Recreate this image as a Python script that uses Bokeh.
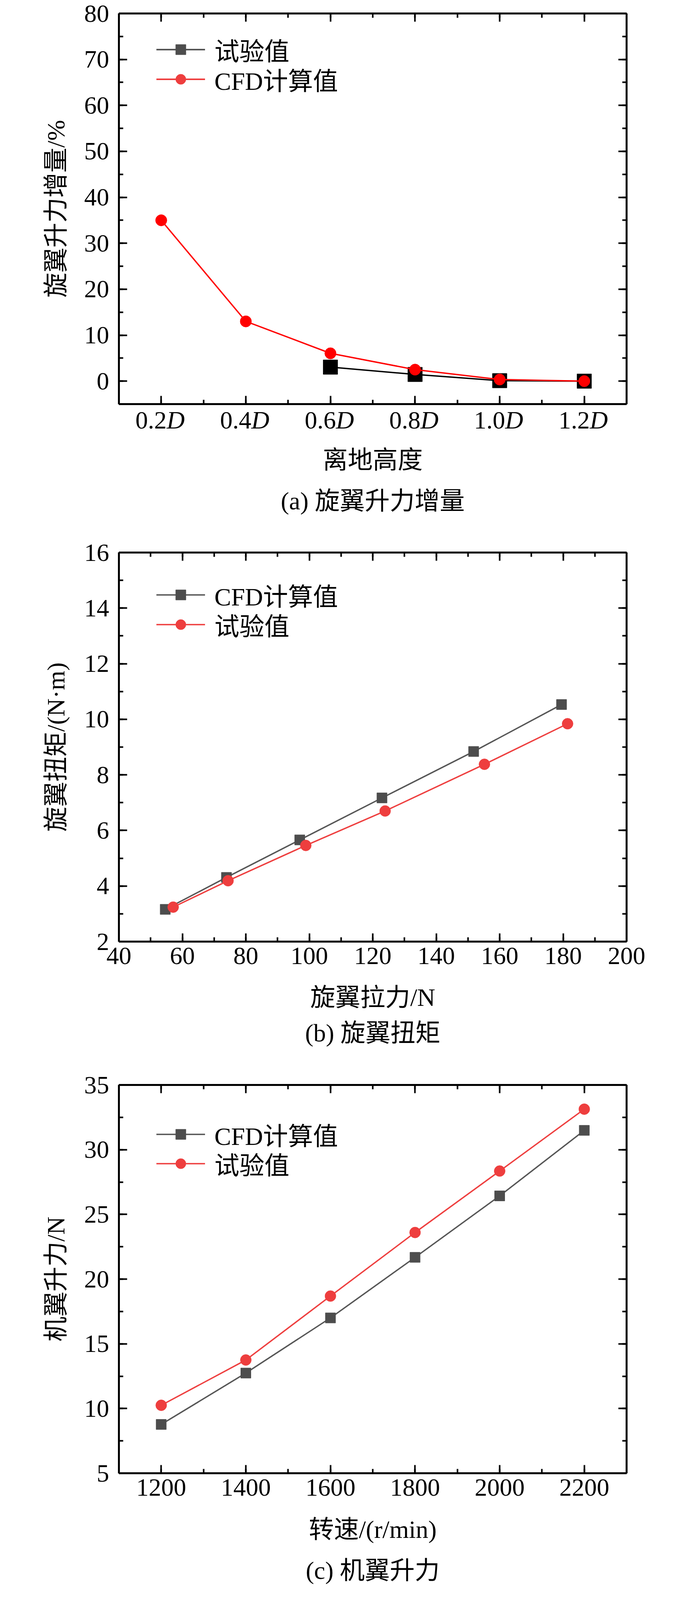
import numpy as np
from bokeh.plotting import figure
from bokeh.layouts import column
from bokeh.models import (ColumnDataSource, FixedTicker, LinearAxis, Range1d,
                          Legend, LegendItem)
from bokeh.core.properties import value
from bokeh.embed import file_html
from bokeh.resources import INLINE

SERIF = "Liberation Serif"
MIXED = "Liberation Serif, Noto Sans CJK SC"
FS = "64px"
W = 1756
BL, BR = 304, 152          # left / right borders -> frame 1300 px wide

# ---------------- data ----------------
# (a) rotor lift increment vs ground height
a_tick_vals = [0.2, 0.4, 0.6, 0.8, 1.0, 1.2]
a_tick_nums = ["0.2", "0.4", "0.6", "0.8", "1.0", "1.2"]
a_cfd_x = [0.2, 0.4, 0.6, 0.8, 1.0, 1.2]
a_cfd_y = [35.0, 13.0, 6.05, 2.5, 0.35, 0.0]
a_exp_x = [0.6, 0.8, 1.0, 1.2]
a_exp_y = [3.05, 1.45, 0.1, 0.0]

# (b) rotor torque vs rotor thrust
b_xticks = [40, 60, 80, 100, 120, 140, 160, 180, 200]
b_cfd_x = [54.6, 73.9, 97.0, 122.9, 151.8, 179.5]
b_cfd_y = [3.16, 4.31, 5.66, 7.17, 8.84, 10.53]
b_exp_x = [57.1, 74.4, 98.9, 123.9, 155.2, 181.4]
b_exp_y = [3.24, 4.19, 5.46, 6.70, 8.38, 9.84]

# (c) wing lift vs rotating speed
c_speed = [1200, 1400, 1600, 1800, 2000, 2200]
c_cfd = [8.77, 12.74, 17.0, 21.68, 26.43, 31.49]
c_exp = [10.25, 13.75, 18.69, 23.6, 28.35, 33.13]

GREY = "#4d4d4d"
GREY_LINE = "#555555"
RED = "#ee3e3e"


def style_axis(ax):
    ax.axis_line_width = 5
    ax.axis_line_color = "black"
    ax.major_tick_in = 21
    ax.major_tick_out = 0
    ax.minor_tick_in = 11
    ax.minor_tick_out = 0
    ax.major_tick_line_width = 4
    ax.minor_tick_line_width = 4
    ax.major_tick_line_color = "black"
    ax.minor_tick_line_color = "black"


def bare_labels(ax):
    ax.major_label_text_font_size = "1px"
    ax.major_label_text_color = None
    ax.major_label_standoff = 0
    ax.axis_label_standoff = 0


def main_fig(h, bt, bb, xr, yr, xt, xm, yt, ym, ylabel, x_labels=True):
    p = figure(width=W, height=h, output_backend="svg", toolbar_location=None,
               title=None, x_range=Range1d(*xr), y_range=Range1d(*yr),
               x_axis_location=None, y_axis_location=None,
               min_border_left=BL, min_border_right=BR,
               min_border_top=bt, min_border_bottom=bb)
    p.outline_line_color = None
    p.xgrid.visible = False
    p.ygrid.visible = False
    p.background_fill_color = "white"
    p.border_fill_color = "white"
    for side in ["below", "left", "above", "right"]:
        if side in ("below", "above"):
            tk = FixedTicker(ticks=xt, minor_ticks=xm)
        else:
            tk = FixedTicker(ticks=yt, minor_ticks=ym)
        ax = LinearAxis(ticker=tk)
        style_axis(ax)
        if side == "left":
            ax.major_label_text_font = SERIF
            ax.major_label_text_font_size = FS
            ax.major_label_text_color = "black"
            ax.major_label_standoff = 25
            ax.axis_label = ylabel
            ax.axis_label_standoff = 34
            ax.axis_label_text_font = MIXED
            ax.axis_label_text_font_size = FS
            ax.axis_label_text_font_style = "normal"
            ax.axis_label_text_color = "black"
        elif side == "below" and x_labels:
            ax.major_label_text_font = SERIF
            ax.major_label_text_font_size = FS
            ax.major_label_text_color = "black"
            ax.major_label_standoff = 15
        else:
            bare_labels(ax)
        p.add_layout(ax, side)
    return p


def strip_fig(h, xr):
    # text strip below a panel; its frame is aligned with the panel frame
    q = figure(width=W, height=h, output_backend="svg", toolbar_location=None,
               title=None, x_range=Range1d(*xr), y_range=Range1d(-h, 0),
               x_axis_location=None, y_axis_location=None,
               min_border_left=BL, min_border_right=BR,
               min_border_top=0, min_border_bottom=0)
    q.outline_line_color = None
    q.xgrid.visible = False
    q.ygrid.visible = False
    q.background_fill_color = "white"
    q.border_fill_color = "white"
    return q


def strip_labels(q, xr, xlabel, lab_base, title, title_base):
    xc = (xr[0] + xr[1]) / 2.0
    for txt, yb in ((xlabel, lab_base), (title, title_base)):
        src = ColumnDataSource(dict(x=[xc], y=[yb], t=[txt]))
        q.text("x", "y", text="t", source=src, text_align="center",
               text_baseline="alphabetic", text_font=value(MIXED),
               text_font_size=value(FS), text_color="black")


def add_legend(p, label, renderers, vy):
    lg = Legend(items=[LegendItem(label=label, renderers=renderers)],
                location=(96, vy), orientation="vertical",
                glyph_width=125, glyph_height=65, label_height=100,
                label_standoff=24, spacing=0, padding=0, margin=0,
                border_line_color=None, background_fill_alpha=0,
                inactive_fill_alpha=0, label_text_font=MIXED,
                label_text_font_size=FS, label_text_color="black")
    p.add_layout(lg, "center")


# ---------------- panel (a) ----------------
a_xr, a_yr = (0.1, 1.3), (-5, 80)
pa = main_fig(1040, 34, 6, a_xr, a_yr,
              a_tick_vals, list(np.round(np.arange(0.1, 1.31, 0.1), 2)),
              list(range(0, 81, 10)), list(range(-5, 81, 5)),
              "旋翼升力增量/%", x_labels=False)
src_ae = ColumnDataSource(dict(x=a_exp_x, y=a_exp_y))
src_ac = ColumnDataSource(dict(x=a_cfd_x, y=a_cfd_y))
pa.line("x", "y", source=src_ae, line_color="black", line_width=3.5)
pa.scatter("x", "y", source=src_ae, marker="square", size=37,
           fill_color="black", line_color="black")
pa.line("x", "y", source=src_ac, line_color="#ff0000", line_width=3.5)
pa.scatter("x", "y", source=src_ac, marker="circle", size=29,
           fill_color="#ff0000", line_color="#ff0000")
# legend-only (hidden) renderers carrying the legend styling
la1 = pa.line("x", "y", source=src_ae, line_color=GREY_LINE, line_width=4, visible=False)
sa1 = pa.scatter("x", "y", source=src_ae, marker="square", fill_color=GREY,
                 line_color=GREY, visible=False)
la2 = pa.line("x", "y", source=src_ac, line_color=RED, line_width=4, visible=False)
sa2 = pa.scatter("x", "y", source=src_ac, marker="circle", fill_color=RED,
                 line_color=RED, visible=False)
add_legend(pa, "试验值", [la1, sa1], 858)
add_legend(pa, "CFD计算值", [la2, sa2], 782)

qa = strip_fig(332, a_xr)
src_at = ColumnDataSource(dict(x=a_tick_vals, y=[-35] * len(a_tick_vals),
                               t=a_tick_nums, d=["D"] * len(a_tick_vals)))
qa.text("x", "y", text="t", source=src_at, text_align="right",
        text_baseline="alphabetic", x_offset=14,
        text_font=value(SERIF), text_font_size=value(FS), text_color="black")
qa.text("x", "y", text="d", source=src_at, text_align="left",
        text_baseline="alphabetic", x_offset=14,
        text_font=value(SERIF), text_font_style=value("italic"),
        text_font_size=value(FS), text_color="black")
strip_labels(qa, a_xr, "离地高度", -137, "(a) 旋翼升力增量", -242)

# ---------------- panel (b) ----------------
b_xr, b_yr = (40, 200), (2, 16)
pb = main_fig(1134, 42, 96, b_xr, b_yr,
              b_xticks, list(range(40, 201, 10)),
              list(range(2, 17, 2)), list(range(2, 17, 1)),
              "旋翼扭矩/(N·m)")
src_bc = ColumnDataSource(dict(x=b_cfd_x, y=b_cfd_y))
src_be = ColumnDataSource(dict(x=b_exp_x, y=b_exp_y))
lb1 = pb.line("x", "y", source=src_bc, line_color=GREY_LINE, line_width=3.5)
sb1 = pb.scatter("x", "y", source=src_bc, marker="square", size=26,
                 fill_color=GREY, line_color=GREY)
lb2 = pb.line("x", "y", source=src_be, line_color=RED, line_width=3.5)
sb2 = pb.scatter("x", "y", source=src_be, marker="circle", size=28,
                 fill_color=RED, line_color=RED)
add_legend(pb, "CFD计算值", [lb1, sb1], 838)
add_legend(pb, "试验值", [lb2, sb2], 762)
qb = strip_fig(229, b_xr)
strip_labels(qb, b_xr, "旋翼拉力/N", -47, "(b) 旋翼扭矩", -138)

# ---------------- panel (c) ----------------
c_xr, c_yr = (1100, 2300), (5, 35)
pc = main_fig(1132, 42, 96, c_xr, c_yr,
              c_speed, list(range(1100, 2301, 100)),
              list(range(5, 36, 5)), list(np.arange(5, 35.1, 2.5)),
              "机翼升力/N")
src_cc = ColumnDataSource(dict(x=c_speed, y=c_cfd))
src_ce = ColumnDataSource(dict(x=c_speed, y=c_exp))
lc1 = pc.line("x", "y", source=src_cc, line_color=GREY_LINE, line_width=3.5)
sc1 = pc.scatter("x", "y", source=src_cc, marker="square", size=26,
                 fill_color=GREY, line_color=GREY)
lc2 = pc.line("x", "y", source=src_ce, line_color=RED, line_width=3.5)
sc2 = pc.scatter("x", "y", source=src_ce, marker="circle", size=28,
                 fill_color=RED, line_color=RED)
add_legend(pc, "CFD计算值", [lc1, sc1], 818)
add_legend(pc, "试验值", [lc2, sc2], 743)
qc = strip_fig(204, c_xr)
strip_labels(qc, c_xr, "转速/(r/min)", -48, "(c) 机翼升力", -153)

layout = column(pa, qa, pb, qb, pc, qc, spacing=0)
open("out.html", "w").write(file_html(layout, INLINE))
